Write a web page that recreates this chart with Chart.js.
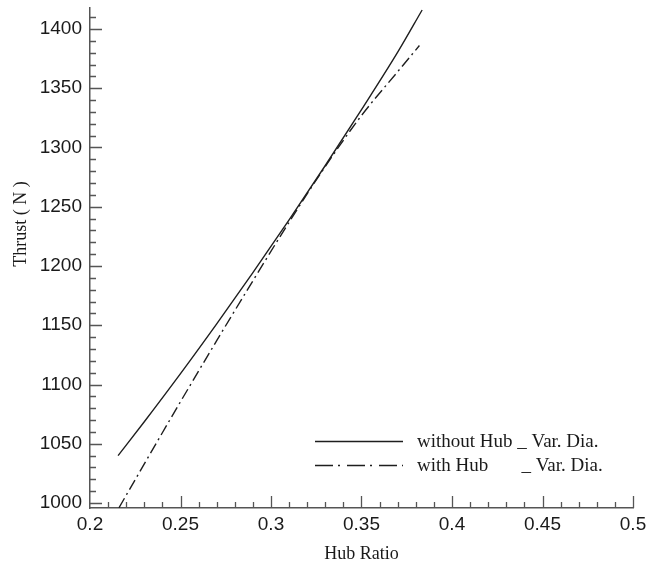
<!DOCTYPE html>
<html>
<head>
<meta charset="utf-8">
<script src="https://cdn.jsdelivr.net/npm/chart.js@4/dist/chart.umd.min.js"></script>
<style>
html,body{margin:0;padding:0;background:#fff;}
#wrap{width:648px;height:568px;position:relative;}
</style>
</head>
<body>
<div id="wrap"><canvas id="c" width="648" height="568"></canvas></div>
<script>
// ---- data ----
const hubRatioWithout = [0.2155, 0.23, 0.25, 0.27, 0.29, 0.31, 0.33, 0.35, 0.37, 0.3835];
const thrustWithout   = [1040, 1068.6, 1109.2, 1151.2, 1194.4, 1238.9, 1284.8, 1331.9, 1380.4, 1416];
const hubRatioWith    = [0.216, 0.23, 0.25, 0.27, 0.29, 0.31, 0.33, 0.35, 0.37, 0.382];
const thrustWith      = [996, 1033, 1085.5, 1137, 1187.5, 1237, 1284, 1327, 1364, 1386];
const seriesLabels    = ['without Hub _ Var. Dia.', 'with Hub       _ Var. Dia.'];
const xTickLabels     = ['0.2', '0.25', '0.3', '0.35', '0.4', '0.45', '0.5'];
const yTickLabels     = ['1000', '1050', '1100', '1150', '1200', '1250', '1300', '1350', '1400'];
const xTitle = 'Hub Ratio';
const yTitle = 'Thrust ( N )';

const toPts = (xs, ys) => xs.map((x, i) => ({x: x, y: ys[i]}));

const AXIS_COLOR = '#555';
const LINE_COLOR = '#1e1e1e';
const LABEL_COLOR = '#1a1a1a';

// inward tick marks (major + minor), drawn through the scales
const innerTicks = {
  id: 'innerTicks',
  afterDraw(chart) {
    const ctx = chart.ctx, xs = chart.scales.x, ys = chart.scales.y;
    const a = chart.chartArea;
    ctx.save();
    ctx.strokeStyle = AXIS_COLOR;
    ctx.lineWidth = 1.3;
    ctx.beginPath();
    for (let k = 21; k <= 50; k++) {
      const v = k / 100;
      const px = Math.round(xs.getPixelForValue(v)) + 0.5;
      const len = (k % 5 === 0) ? 12 : 6;
      ctx.moveTo(px, a.bottom); ctx.lineTo(px, a.bottom - len);
    }
    for (let v = 1000; v <= ys.max; v += 10) {
      const py = Math.round(ys.getPixelForValue(v)) + 0.5;
      const len = (v % 50 === 0) ? 12 : 6;
      ctx.moveTo(a.left, py); ctx.lineTo(a.left + len, py);
    }
    ctx.stroke();
    ctx.restore();
  }
};

// y-axis title placed like the reference
const yTitlePlugin = {
  id: 'yTitlePlugin',
  afterDraw(chart) {
    const ctx = chart.ctx;
    ctx.save();
    ctx.translate(26, 224);
    ctx.rotate(-Math.PI / 2);
    ctx.font = '18px "Liberation Serif"';
    ctx.fillStyle = LABEL_COLOR;
    ctx.textAlign = 'center';
    ctx.textBaseline = 'alphabetic';
    ctx.fillText(yTitle, 0, 0);
    ctx.restore();
  }
};

// legend inside the plot, bottom right
const legendPlugin = {
  id: 'innerLegend',
  afterDraw(chart) {
    const ctx = chart.ctx;
    ctx.save();
    chart.data.datasets.forEach((ds, i) => {
      const y = 441 + 24 * i;
      ctx.strokeStyle = ds.borderColor;
      ctx.lineWidth = 1.3;
      ctx.setLineDash(ds.legendDash || []);
      ctx.beginPath();
      ctx.moveTo(315, y + 0.5); ctx.lineTo(403, y + 0.5);
      ctx.stroke();
      ctx.setLineDash([]);
      ctx.font = '19px "Liberation Serif"';
      ctx.fillStyle = LABEL_COLOR;
      ctx.textAlign = 'left';
      ctx.textBaseline = 'alphabetic';
      ctx.fillText(ds.label, 417, y + 6);
    });
    ctx.restore();
  }
};

new Chart(document.getElementById('c'), {
  type: 'line',
  data: {
    datasets: [
      {
        label: seriesLabels[0],
        data: toPts(hubRatioWithout, thrustWithout),
        borderColor: LINE_COLOR,
        borderWidth: 1.4,
        pointRadius: 0,
        fill: false,
        cubicInterpolationMode: 'monotone',
        legendDash: []
      },
      {
        label: seriesLabels[1],
        data: toPts(hubRatioWith, thrustWith),
        borderColor: LINE_COLOR,
        borderWidth: 1.4,
        borderDash: [11, 4, 2, 4],
        pointRadius: 0,
        fill: false,
        cubicInterpolationMode: 'monotone',
        legendDash: [18, 5, 2, 7]
      }
    ]
  },
  options: {
    responsive: false,
    devicePixelRatio: 1,
    animation: false,
    layout: { padding: { top: 8, right: 15, left: 0, bottom: 0 } },
    plugins: { legend: { display: false }, tooltip: { enabled: false } },
    scales: {
      x: {
        type: 'linear',
        min: 0.2,
        max: 0.5,
        afterBuildTicks: (s) => { s.ticks = xTickLabels.map(t => ({ value: parseFloat(t) })); },
        afterFit: (s) => { s.height = 60; s.paddingLeft = 0; s.paddingRight = 0; },
        grid: { display: true, drawOnChartArea: false, drawTicks: false },
        border: { display: true, color: AXIS_COLOR, width: 1.5 },
        ticks: {
          padding: 5,
          color: LABEL_COLOR,
          font: { family: '"Liberation Sans", Arial', size: 19 },
          maxRotation: 0,
          autoSkip: false,
          callback: (v) => { const i = xTickLabels.findIndex(t => Math.abs(parseFloat(t) - v) < 1e-9); return i >= 0 ? xTickLabels[i] : ''; }
        },
        title: {
          display: true,
          text: xTitle,
          color: LABEL_COLOR,
          font: { family: '"Liberation Serif"', size: 18, lineHeight: 1.2 },
          padding: { top: 0, bottom: 3 }
        }
      },
      y: {
        type: 'linear',
        min: 995.8,
        max: 1417.7,
        afterBuildTicks: (s) => { s.ticks = yTickLabels.map(t => ({ value: parseFloat(t) })); },
        afterFit: (s) => { s.width = 90; s.paddingTop = 0; s.paddingBottom = 0; },
        grid: { display: true, drawOnChartArea: false, drawTicks: false },
        border: { display: true, color: AXIS_COLOR, width: 1.5 },
        ticks: {
          padding: 8,
          color: LABEL_COLOR,
          font: { family: '"Liberation Sans", Arial', size: 19 },
          autoSkip: false,
          callback: (v) => { const i = yTickLabels.findIndex(t => parseFloat(t) === v); return i >= 0 ? yTickLabels[i] : ''; }
        },
        title: { display: false }
      }
    }
  },
  plugins: [innerTicks, yTitlePlugin, legendPlugin]
});
</script>
</body>
</html>
